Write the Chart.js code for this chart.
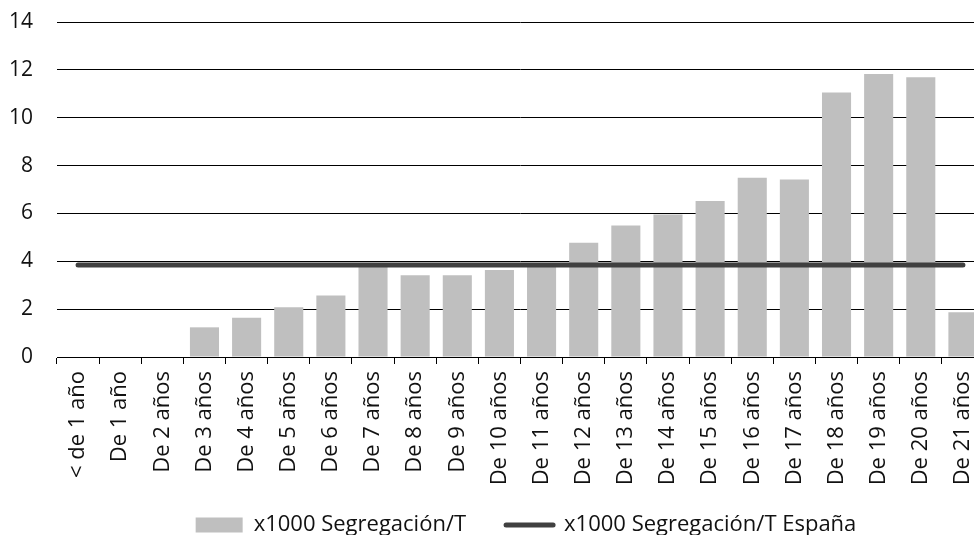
<!DOCTYPE html>
<html>
<head>
<meta charset="utf-8">
<script src="https://cdn.jsdelivr.net/npm/chart.js@4/dist/chart.umd.min.js"></script>
<style>
    html, body { margin: 0; padding: 0; background: #fff; }
    #wrap { width: 974px; height: 535px; overflow: hidden; position: relative; }
    #segChart { display: block; }
</style>
</head>
<body>
<div id="wrap">
    <canvas id="segChart" width="1051" height="559"></canvas>
</div>
<script>
const ageLabels = ['< de 1 año', 'De 1 año', 'De 2 años', 'De 3 años', 'De 4 años', 'De 5 años',
    'De 6 años', 'De 7 años', 'De 8 años', 'De 9 años', 'De 10 años', 'De 11 años', 'De 12 años',
    'De 13 años', 'De 14 años', 'De 15 años', 'De 16 años', 'De 17 años', 'De 18 años',
    'De 19 años', 'De 20 años', 'De 21 años'];
const segregacion = [0, 0, 0, 1.24, 1.64, 2.08, 2.57, 3.9, 3.42, 3.42, 3.64, 3.85, 4.77,
    5.5, 5.96, 6.52, 7.49, 7.42, 11.05, 11.83, 11.69, 1.87];
const segregacionEspana = [3.85, 3.85, 3.85, 3.85, 3.85, 3.85, 3.85, 3.85, 3.85, 3.85, 3.85,
    3.85, 3.85, 3.85, 3.85, 3.85, 3.85, 3.85, 3.85, 3.85, 3.85, 3.85];
const yTicks = [0, 2, 4, 6, 8, 10, 12, 14];

const fontFamily = "'Open Sans', 'Noto Sans', sans-serif";
const lineColor = '#404040';

// legend sits closer to the rotated labels and a bit further right than the layout gives
const legendShift = {
    id: 'legendShift',
    afterLayout(chart) {
        if (chart.legend) {
            chart.legend.top -= 13;
            chart.legend.bottom -= 13;
            chart.legend.left += 34;
            chart.legend.right += 34;
        }
    }
};

document.addEventListener('DOMContentLoaded', function() {
    const ctx = document.getElementById('segChart').getContext('2d');

    new Chart(ctx, {
        type: 'bar',
        data: {
            labels: ageLabels,
            datasets: [
                {
                    label: 'x1000 Segregación/T',
                    data: segregacion,
                    backgroundColor: '#bfbfbf',
                    borderWidth: 0,
                    categoryPercentage: 1,
                    barPercentage: 0.69,
                    order: 2
                },
                {
                    type: 'line',
                    label: 'x1000 Segregación/T España',
                    data: segregacionEspana,
                    borderColor: lineColor,
                    backgroundColor: lineColor,
                    borderWidth: 5,
                    borderCapStyle: 'round',
                    pointRadius: 0,
                    fill: false,
                    order: 1
                }
            ]
        },
        options: {
            responsive: false,
            animation: false,
            layout: {
                padding: { top: 22, right: 67, left: 0, bottom: 0 }
            },
            plugins: {
                tooltip: { enabled: false },
                legend: {
                    position: 'bottom',
                    labels: {
                        font: { family: fontFamily, size: 22 },
                        color: '#111',
                        usePointStyle: true,
                        pointStyleWidth: 47,
                        boxHeight: 15,
                        padding: 40,
                        sort: (a, b) => a.datasetIndex - b.datasetIndex,
                        generateLabels: function(chart) {
                            const items = Chart.defaults.plugins.legend.labels.generateLabels(chart);
                            items.forEach(function(item) {
                                if (item.datasetIndex === 1) {
                                    item.pointStyle = 'line';
                                    item.strokeStyle = lineColor;
                                    item.lineWidth = 5;
                                    item.lineCap = 'round';
                                } else {
                                    item.pointStyle = 'rect';
                                    item.fillStyle = '#bfbfbf';
                                    item.lineWidth = 0;
                                }
                            });
                            return items;
                        }
                    }
                }
            },
            scales: {
                x: {
                    afterFit: function(scale) {
                        scale.height = 130;
                        scale.paddingLeft = 0;
                        scale.paddingRight = 0;
                    },
                    border: { display: true, color: '#000', width: 1 },
                    grid: {
                        drawOnChartArea: false,
                        drawTicks: true,
                        tickLength: 7,
                        color: '#000',
                        offset: true
                    },
                    ticks: {
                        autoSkip: false,
                        minRotation: 90,
                        maxRotation: 90,
                        padding: 7,
                        color: '#111',
                        font: { family: fontFamily, size: 22 }
                    }
                },
                y: {
                    min: 0,
                    max: 14,
                    afterFit: function(scale) {
                        scale.width = 57;
                        scale.paddingTop = 0;
                        scale.paddingBottom = 0;
                    },
                    afterBuildTicks: function(scale) {
                        scale.ticks = yTicks.map(v => ({ value: v }));
                    },
                    border: { display: false },
                    grid: {
                        color: '#000',
                        lineWidth: 1,
                        drawTicks: false
                    },
                    ticks: {
                        padding: 24,
                        color: '#111',
                        font: { family: fontFamily, size: 21 }
                    }
                }
            }
        },
        plugins: [legendShift]
    });
});
</script>
</body>
</html>
